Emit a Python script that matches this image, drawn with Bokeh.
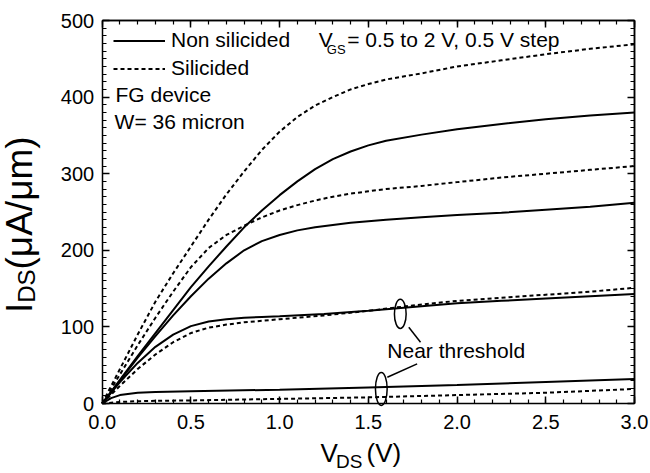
import numpy as np
from bokeh.plotting import figure
from bokeh.models import (Range1d, LinearAxis, SingleIntervalTicker, FixedTicker, Label,
                          Legend, LegendItem, PrintfTickFormatter)
from bokeh.embed import file_html
from bokeh.resources import INLINE

# ---------------- data ----------------
v_top = [0, 0.1, 0.2, 0.3, 0.4, 0.5, 0.6, 0.7, 0.8, 0.9, 1.0, 1.1, 1.2, 1.3, 1.4,
         1.5, 1.6, 1.8, 2.0, 2.25, 2.5, 2.75, 3.0]
ns_vgs20 = [0, 31, 62, 92, 122, 152, 179, 205, 230, 252, 272, 290, 306, 319, 329,
            337, 343, 351, 358, 365, 371, 376, 380]
ns_vgs15 = [0, 30, 60, 88, 115, 140, 163, 183, 200, 212, 220, 226, 230, 233, 236,
            238, 240, 243, 246, 249, 253, 257, 262]
si_vgs20 = [0, 45, 90, 133, 170, 205, 240, 273, 303, 331, 355, 374, 389, 400, 410,
            417, 423, 431, 440, 448, 456, 463, 469]
si_vgs15 = [0, 38, 76, 112, 146, 178, 203, 220, 232, 243, 252, 259, 265, 270, 274,
            277, 280, 284, 289, 295, 300, 305, 310]

v_mid = [0, 0.1, 0.2, 0.3, 0.4, 0.5, 0.6, 0.7, 0.8, 0.9, 1.0, 1.25, 1.5, 1.75, 2.0,
         2.25, 2.5, 2.75, 3.0]
ns_vgs10 = [0, 28, 53, 74, 90, 101, 107, 110, 112, 113, 114, 117, 121, 126, 131,
            134, 137, 140, 143]
si_vgs10 = [0, 23, 45, 64, 80, 92, 99, 103, 106, 108, 110, 115, 121, 128, 134,
            138, 142, 146, 151]

v_low = [0, 0.05, 0.1, 0.2, 0.3, 0.5, 1.0, 1.5, 2.0, 2.5, 3.0]
ns_vgs05 = [0, 7, 11, 14, 15, 16, 18, 21, 24, 28, 32]
si_vgs05 = [0, 1, 2, 3, 3.5, 4, 6, 8, 11, 14, 19]

# axis limits and ticks
x_lim = (0.0, 3.0)
y_lim = (0.0, 500.0)
x_major = [0.0, 0.5, 1.0, 1.5, 2.0, 2.5, 3.0]
y_major = [0, 100, 200, 300, 400, 500]

# annotation ellipses (center V, center I, width V, height I)
ell_x = [1.68, 1.573]
ell_y = [117, 19]
ell_w = [0.066, 0.066]
ell_h = [38, 43]
# leader lines
lead_x0 = [1.728, 1.775]
lead_y0 = [99.6, 51.8]
lead_x1 = [1.794, 1.607]
lead_y1 = [80, 34.3]

FONT = "Liberation Sans"
W, H = 650, 473
# plot box in canvas pixels
BOX_L, BOX_R, BOX_T, BOX_B = 101.7, 634.0, 20.0, 403.0
sx = (BOX_R - BOX_L) / (x_lim[1] - x_lim[0])
sy = (BOX_B - BOX_T) / (y_lim[1] - y_lim[0])
xr = Range1d(x_lim[0] - BOX_L / sx, x_lim[1] + (W - BOX_R) / sx)
yr = Range1d(y_lim[0] - (H - BOX_B) / sy, y_lim[1] + BOX_T / sy)

p = figure(width=W, height=H, x_range=xr, y_range=yr, output_backend="svg",
           toolbar_location=None, x_axis_location=None, y_axis_location=None,
           min_border=0)
p.grid.visible = False
p.outline_line_color = None
p.background_fill_color = "white"
p.border_fill_color = "white"


def base_axis(ax):
    ax.axis_line_color = "black"
    ax.axis_line_width = 1.5
    ax.major_tick_in = 7
    ax.major_tick_out = 0
    ax.minor_tick_in = 4
    ax.minor_tick_out = 0
    ax.major_tick_line_width = 1.5
    ax.minor_tick_line_width = 1.2
    ax.major_tick_line_color = "black"
    ax.minor_tick_line_color = "black"
    ax.major_label_text_font = FONT
    ax.major_label_text_font_size = "20px"
    ax.major_label_text_color = "black"


xb = LinearAxis(fixed_location=y_lim[0], bounds=x_lim,
                ticker=SingleIntervalTicker(interval=0.5, num_minor_ticks=5),
                formatter=PrintfTickFormatter(format="%.1f"))
base_axis(xb)
xb.major_label_standoff = 11
p.add_layout(xb, "below")

yl = LinearAxis(fixed_location=x_lim[0], bounds=y_lim,
                ticker=SingleIntervalTicker(interval=100, num_minor_ticks=10))
base_axis(yl)
yl.major_label_standoff = 8
p.add_layout(yl, "left")

# mirrored tick axes (no labels) on top and right
x_minor = [round(v, 2) for v in np.arange(x_lim[0], x_lim[1] + 1e-9, 0.1)]
y_minor = [int(v) for v in np.arange(y_lim[0], y_lim[1] + 1e-9, 10)]
for side, loc, bnd, majors, minors in (("above", y_lim[1], x_lim, x_major, x_minor),
                                       ("right", x_lim[1], y_lim, y_major, y_minor)):
    for tl, ticks in ((4, minors), (7, majors)):
        ax = LinearAxis(fixed_location=loc, bounds=bnd,
                        ticker=FixedTicker(ticks=[], minor_ticks=ticks))
        base_axis(ax)
        ax.minor_tick_in = tl
        ax.minor_tick_line_width = 1.5 if tl == 7 else 1.2
        p.add_layout(ax, side)

solid = dict(line_color="black", line_width=2)
dashed = dict(line_color="black", line_width=2, line_dash="4 3")

r_ns20 = p.line(v_top, ns_vgs20, **solid)
p.line(v_top, ns_vgs15, **solid)
p.line(v_mid, ns_vgs10, **solid)
p.line(v_low, ns_vgs05, **solid)
r_si20 = p.line(v_top, si_vgs20, **dashed)
p.line(v_top, si_vgs15, **dashed)
p.line(v_mid, si_vgs10, **dashed)
p.line(v_low, si_vgs05, **dashed)

p.ellipse(x=ell_x, y=ell_y, width=ell_w, height=ell_h, fill_color=None,
          line_color="black", line_width=1.5)
p.segment(x0=lead_x0, y0=lead_y0, x1=lead_x1, y1=lead_y1, line_color="black",
          line_width=1.5)

legend = Legend(items=[LegendItem(label="Non silicided", renderers=[r_ns20]),
                       LegendItem(label="Silicided", renderers=[r_si20])],
                location=(113, 393), margin=0, padding=0, spacing=4,
                glyph_width=52, glyph_height=23, label_height=23, label_standoff=6,
                label_text_font=FONT, label_text_font_size="21px",
                label_text_color="black", border_line_color=None,
                background_fill_alpha=0)
p.add_layout(legend)

SHIFT = 0.35  # renderer places the alphabetic baseline this many em lower


def lab(x, y, text, size, angle=0.0):
    if angle == 0.0:
        y = y + SHIFT * size / sy
    else:
        x = x - SHIFT * size / sx
    p.add_layout(Label(x=x, y=y, text=text, text_font=FONT,
                       text_font_size=f"{size}px", text_color="black",
                       text_align="left", text_baseline="alphabetic", angle=angle))


lab(1.221, 465, "V", 21)
lab(1.266, 456, "GS", 13)
lab(1.381, 465, "= 0.5 to 2 V, 0.5 V step", 21)
lab(0.075, 393.3, "FG device", 21)
lab(0.07, 358.6, "W= 36 micron", 21)
lab(1.607, 60, "Near threshold", 21)

# axis titles (with subscripts)
lab(1.2306, -77, "V", 26)
lab(1.3180, -84.5, "DS", 19)
lab(1.4900, -77, "(V)", 26)

lab(-0.3946, 118, "I", 37, np.pi / 2)
lab(-0.3790, 131.4, "DS", 24, np.pi / 2)
lab(-0.3946, 175, "(\u03bcA/\u03bcm)", 37, np.pi / 2)

open("out.html", "w").write(file_html(p, INLINE))
